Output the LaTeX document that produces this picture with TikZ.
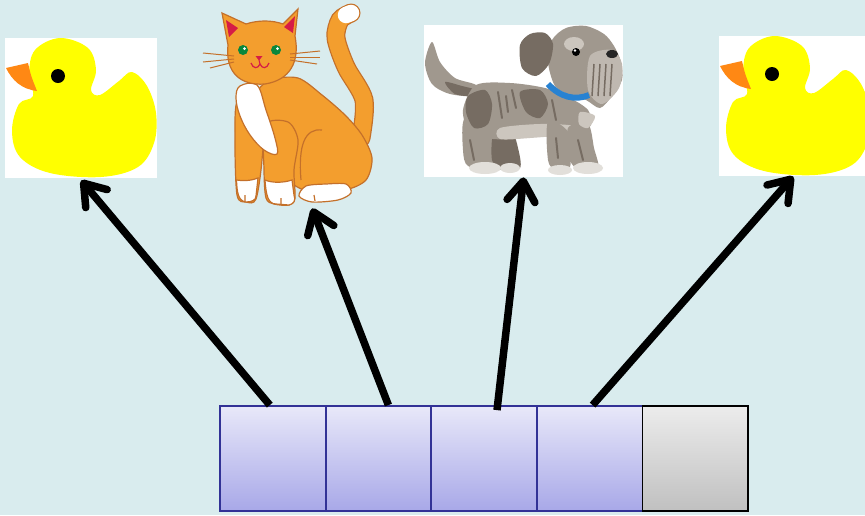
\documentclass[tikz,border=0pt]{standalone}
\usetikzlibrary{arrows.meta}
\definecolor{bgblue}{RGB}{217,236,238}
\definecolor{celltop}{RGB}{232,232,249}
\definecolor{cellbot}{RGB}{168,168,232}
\definecolor{celledge}{RGB}{50,50,150}
\definecolor{greytop}{RGB}{236,236,236}
\definecolor{greybot}{RGB}{192,192,192}
\definecolor{duckyellow}{RGB}{255,255,0}
\definecolor{beakorange}{RGB}{255,136,20}
\definecolor{catfur}{RGB}{243,158,46}
\definecolor{catline}{RGB}{196,112,42}
\definecolor{catred}{RGB}{214,28,70}
\definecolor{eyegreen}{RGB}{10,135,60}
\definecolor{dogmid}{RGB}{160,152,142}
\definecolor{dogdark}{RGB}{118,108,98}
\definecolor{doglight}{RGB}{204,198,190}
\definecolor{dogpaw}{RGB}{226,223,218}
\definecolor{collar}{RGB}{40,130,210}
\tikzset{
  duck/.pic={
    \fill[duckyellow] plot[smooth cycle,tension=0.6] coordinates {(24,36) (30,12) (55,0) (83,10) (91,32) (86,52) (95,57) (114,43) (127,34) (142,48) (151,75) (149,105) (133,129) (96,139) (45,135) (15,119) (7,93) (14,66) (28,58)};
    \fill[beakorange] (1,30) -- (23,25) .. controls (26,38) .. (32,53) .. controls (16,51) and (7,42) .. (1,30) -- cycle;
    \fill[black] (53,38) circle[radius=7pt];
  }
}
\begin{document}
\begin{tikzpicture}[x=1pt,y=-1pt,
  cell/.style={draw=celledge,line width=1.8pt,top color=celltop,bottom color=cellbot,minimum width=105.6pt,minimum height=105pt,inner sep=0pt},
  spare/.style={cell,draw=black,top color=greytop,bottom color=greybot},
  frame/.style={fill=white,inner sep=0pt,anchor=north west,minimum width=152pt,minimum height=140pt},
  fur/.style={catline,line width=1.2pt},
  ptr/.style={line width=7.5pt,-{Straight Barb[round,length=20pt,width=28pt]}}]
  \fill[bgblue] (0,0) rectangle (865,515);
  \useasboundingbox (0,0) rectangle (865,515);

  \node[frame] (duckL) at (5,38) {};
  \pic at (5,38) {duck};
  \node[frame] (duckR) at (719,36) {};
  \pic at (719,36) {duck};
  \node[frame,minimum width=199pt,minimum height=152pt] (dog) at (424,25) {};
  \node[inner sep=0pt,anchor=north west,minimum width=172pt,minimum height=200pt] (cat) at (203,5) {};

  % cat
  \draw[catline,line width=19pt,line cap=round] plot[smooth] coordinates {(361,138) (364,100) (346,67) (336,38) (340,20) (351,13)};
  \draw[catfur,line width=16.5pt,line cap=round] plot[smooth] coordinates {(361,138) (364,100) (346,67) (336,38) (340,20) (351,13)};
  \draw[white,line width=16.5pt,line cap=round] (346,15) -- (351,13);
  \draw[fur,fill=catfur] plot[smooth cycle] coordinates {(270,80) (298,78) (322,95) (345,115) (362,135) (372,158) (366,180) (345,190) (310,192) (285,178) (268,150) (256,115) (255,95)};
  \draw[fur,fill=white] plot[smooth cycle] coordinates {(299,196) (306,186) (326,184) (346,184) (351,193) (338,200) (312,202)};
  \draw[fur,fill=white] (272,178) ellipse[x radius=5pt,y radius=5pt];
  \draw[fur,fill=catfur] plot[smooth cycle] coordinates {(238,100) (235,140) (237,195) (246,202) (256,199) (262,160) (263,115)};
  \draw[fur,fill=white] (236.5,180) .. controls (237,192) and (238,201) .. (246,202) .. controls (252,202) and (256,200) .. (256,196) -- (258,178) .. controls (250,181) and (243,181) .. (236.5,180) -- cycle;
  \draw[fur,fill=catfur] plot[smooth cycle] coordinates {(265,125) (264,170) (266,198) (274,204) (289,205) (295,198) (294,170) (298,140) (288,122)};
  \draw[fur,fill=white] (265,180) .. controls (266,195) and (268,204) .. (276,204) -- (289,205) .. controls (294,204) and (296,200) .. (294,195) -- (292,180) .. controls (283,183) and (272,183) .. (265,180) -- cycle;
  \draw[fur,fill=white] plot[smooth cycle,tension=0.6] coordinates {(240,86) (257,85) (266,110) (275,138) (277,154) (264,150) (250,135) (240,116) (236,98)};
  \draw[fur] (322,130) .. controls (305,128) and (298,145) .. (301,180);
  \draw[fur] (245,195) -- (245,201) (281,198) -- (281,204) (314,195) -- (315,201);
  \draw[fur,fill=catfur] (228,45) -- (222,13) -- (246,24) .. controls (258,20) and (272,20) .. (283,24) -- (298,9) -- (295,36) .. controls (300,62) and (290,80) .. (265,84) .. controls (240,86) and (225,72) .. (228,45) -- cycle;
  \fill[catred] (226,20) -- (229,37) -- (238,28) -- cycle;
  \fill[catred] (295,16) -- (293,33) -- (284,27) -- cycle;
  \foreach \x in {243,276} {
    \fill[eyegreen] (\x,50) circle[radius=5pt];
    \fill[white] (\x+1.5,48.5) circle[radius=1.5pt];
  }
  \fill[catred] (255.5,56) -- (262.5,56) -- (259,60.5) -- cycle;
  \draw[catred,line width=1.2pt] (251,63) .. controls (253,69) and (258,69) .. (260,64) .. controls (262,69) and (267,69) .. (269,63);
  \draw[catred,line width=1pt] (259,60) -- (260,64);
  \foreach \ya/\xb/\yb in {56/203/53, 59/203/62, 62/210/68}
    \draw[catline,line width=1pt] (234,\ya) -- (\xb,\yb);
  \foreach \ya/\xb/\yb in {54/320/51, 57/320/57, 60/317/64}
    \draw[catline,line width=1pt] (290,\ya) -- (\xb,\yb);

  % dog
  \fill[dogmid] plot[smooth cycle] coordinates {(432,42) (440,62) (455,78) (476,85) (477,96) (450,94) (432,84) (425,63)};
  \fill[dogdark] plot[smooth cycle] coordinates {(445,82) (462,86) (476,90) (474,96) (455,94)};
  \fill[dogmid] plot[smooth cycle] coordinates {(465,118) (463,150) (468,166) (492,168) (496,150) (494,128)};
  \fill[dogdark] plot[smooth cycle] coordinates {(494,132) (492,160) (502,170) (520,168) (518,148) (512,133)};
  \fill[dogmid] plot[smooth cycle] coordinates {(476,85) (510,83) (545,88) (570,98) (588,110) (591,125) (578,133) (548,134) (520,138) (493,139) (470,132) (463,110)};
  \fill[dogdark] plot[smooth cycle] coordinates {(468,96) (485,90) (492,104) (488,124) (474,128) (466,112)};
  \fill[dogdark] plot[smooth cycle] coordinates {(520,92) (540,90) (548,104) (540,118) (526,112)};
  \fill[doglight] plot[smooth cycle] coordinates {(500,128) (540,124) (575,126) (570,134) (530,138) (500,139)};
  \fill[dogmid] plot[smooth cycle] coordinates {(548,122) (548,160) (555,169) (570,167) (568,132)};
  \fill[dogmid] plot[smooth cycle] coordinates {(568,128) (570,160) (580,170) (598,168) (594,148) (588,124)};
  \fill[doglight] plot[smooth cycle] coordinates {(580,112) (595,116) (588,128) (579,124)};
  \foreach \xa/\ya/\xb/\yb in {498/92/502/118, 506/96/508/112, 512/90/516/108, 552/100/556/120, 470/140/474/160, 556/138/558/158, 578/140/583/160}
    \draw[dogdark,line width=2pt,line cap=round] (\xa,\ya) -- (\xb,\yb);
  \fill[dogpaw] (485,168) ellipse[x radius=16pt,y radius=6pt];
  \fill[dogpaw] (510,168) ellipse[x radius=10pt,y radius=5pt];
  \fill[dogpaw] (560,170) ellipse[x radius=12pt,y radius=5pt];
  \fill[dogpaw] (588,168) ellipse[x radius=15pt,y radius=6pt];
  \fill[dogmid] plot[smooth cycle] coordinates {(548,62) (552,40) (566,28) (586,26) (604,34) (614,46) (621,62) (622,80) (612,96) (600,108) (586,100) (570,95) (555,86)};
  \fill[doglight] (574,44) ellipse[x radius=10pt,y radius=7pt];
  \fill[dogdark] plot[smooth cycle] coordinates {(520,45) (530,34) (545,33) (553,44) (549,64) (536,76) (522,68)};
  \fill[doglight!70!dogmid] plot[smooth cycle] coordinates {(590,56) (612,50) (622,64) (619,88) (602,104) (588,90)};
  \foreach \x in {594,600,606,612}
    \draw[dogdark,line width=1.5pt] (\x,64) -- (\x-2,96);
  \draw[collar,line width=6pt] (548,84) .. controls (560,97) and (575,101) .. (589,95);
  \fill[black] (576,52) circle[radius=4pt];
  \fill[white] (575,50.5) circle[radius=1.3pt];
  \fill[black!85] (612,54) ellipse[x radius=6pt,y radius=4pt];

  \foreach \i in {1,...,4}
    \node[cell] (c\i) at ({220+105.6*(\i-0.5)},458.5) {};
  \node[spare] (c5) at (695.2,458.5) {};

  \draw[ptr] ([xshift=-3pt]c1.north) -- ([yshift=-2pt]duckL.south);
  \draw[ptr] ([xshift=10pt]c2.north) -- ([xshift=23pt,yshift=-3pt]cat.south);
  \draw[ptr] ([xshift=13pt,yshift=-5pt]c3.north) -- (dog.south);
  \draw[ptr] ([xshift=3pt]c4.north) -- ([xshift=-2pt]duckR.south);
\end{tikzpicture}
\end{document}
